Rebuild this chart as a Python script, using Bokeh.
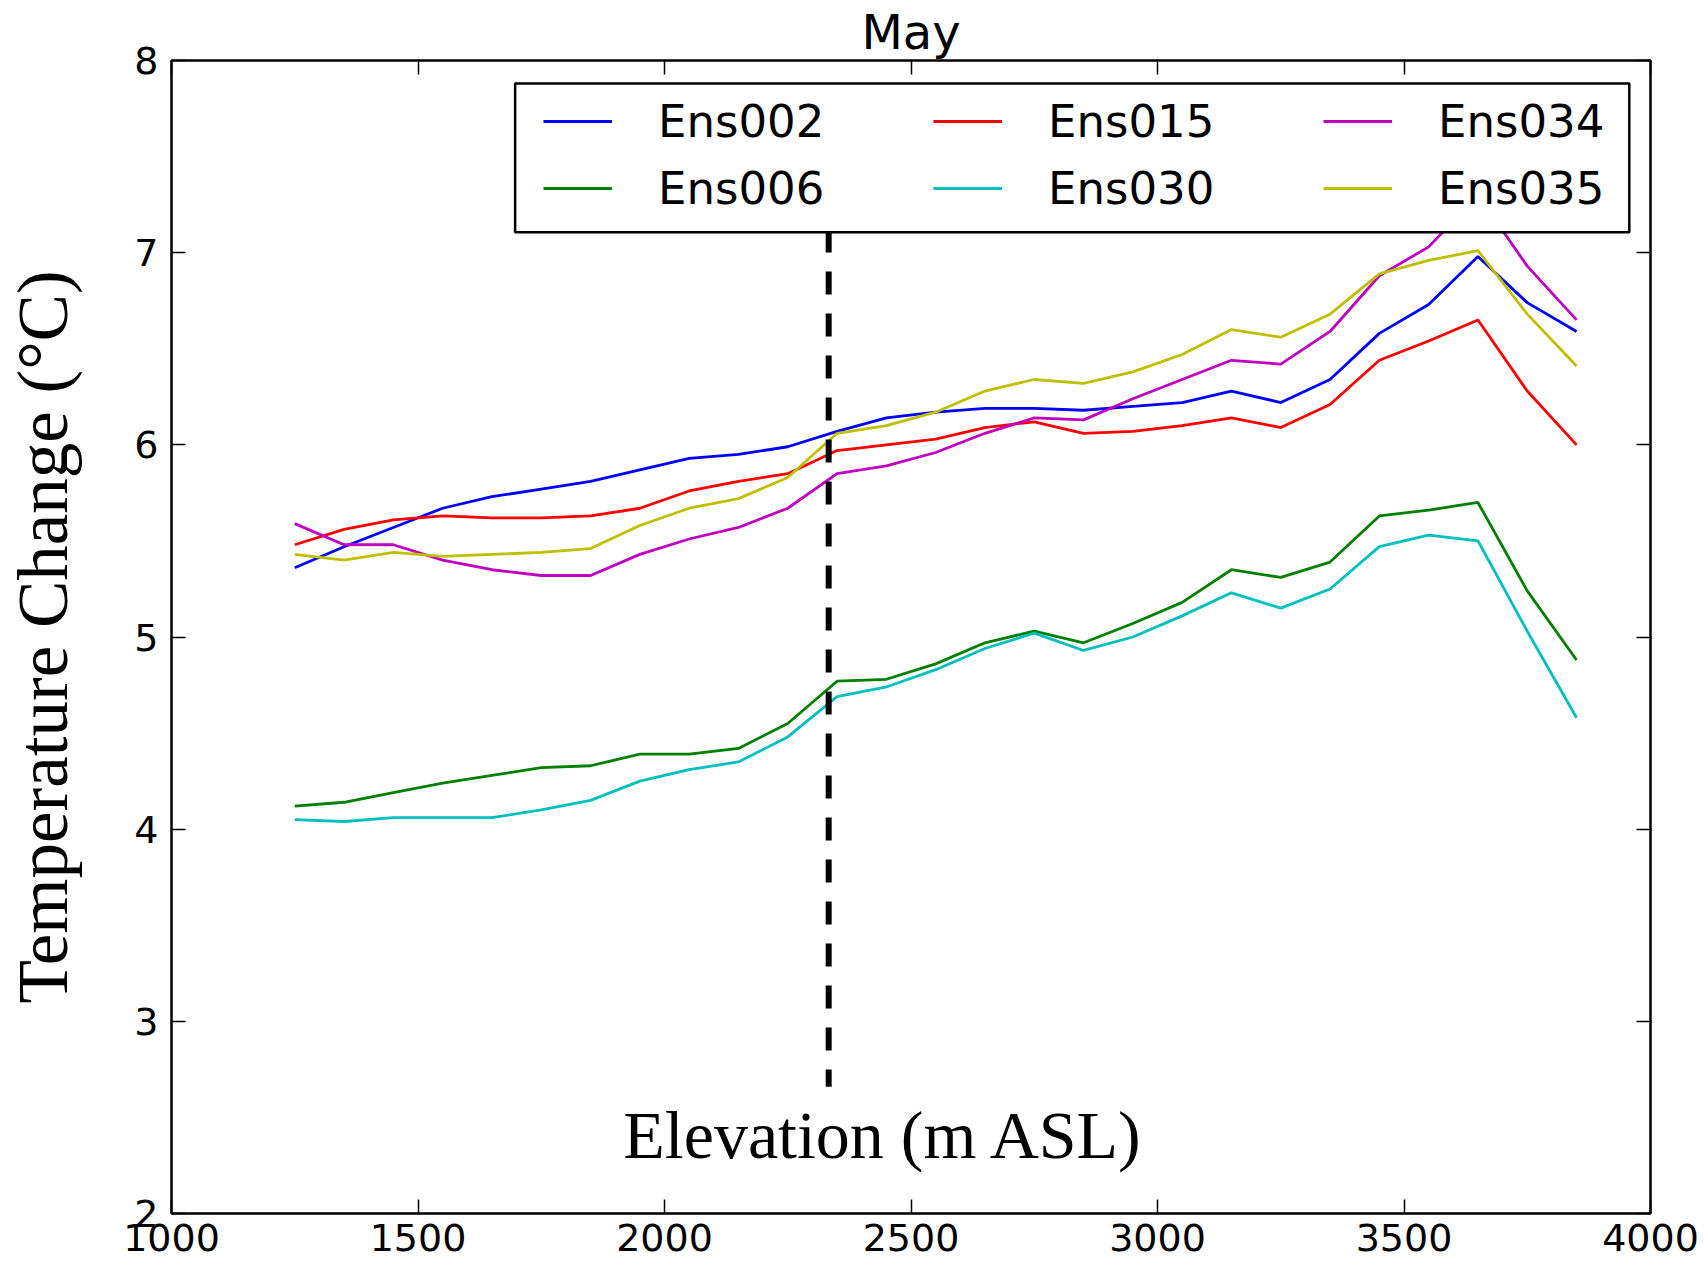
from bokeh.plotting import figure
from bokeh.models import (Legend, LegendItem, Label, LinearAxis, FixedTicker,
                          BoxAnnotation, CustomJSTickFormatter, Range1d)
from bokeh.embed import file_html
from bokeh.resources import INLINE

# ---------------- data ----------------
elevation = [1250, 1350, 1450, 1550, 1650, 1750, 1850, 1950, 2050, 2150, 2250,
             2350, 2450, 2550, 2650, 2750, 2850, 2950, 3050, 3150, 3250, 3350,
             3450, 3550, 3650, 3750, 3850]

ens002 = [5.36, 5.47, 5.57, 5.67, 5.73, 5.77, 5.81, 5.87, 5.93, 5.95, 5.99,
          6.07, 6.14, 6.17, 6.19, 6.19, 6.18, 6.20, 6.22, 6.28, 6.22, 6.34,
          6.58, 6.73, 6.98, 6.74, 6.59]
ens006 = [4.12, 4.14, 4.19, 4.24, 4.28, 4.32, 4.33, 4.39, 4.39, 4.42, 4.55,
          4.77, 4.78, 4.86, 4.97, 5.03, 4.97, 5.07, 5.18, 5.35, 5.31, 5.39,
          5.63, 5.66, 5.70, 5.24, 4.88]
ens015 = [5.48, 5.56, 5.61, 5.63, 5.62, 5.62, 5.63, 5.67, 5.76, 5.81, 5.85,
          5.97, 6.00, 6.03, 6.09, 6.12, 6.06, 6.07, 6.10, 6.14, 6.09, 6.21,
          6.44, 6.54, 6.65, 6.28, 6.00]
ens030 = [4.05, 4.04, 4.06, 4.06, 4.06, 4.10, 4.15, 4.25, 4.31, 4.35, 4.48,
          4.69, 4.74, 4.83, 4.94, 5.02, 4.93, 5.00, 5.11, 5.23, 5.15, 5.25,
          5.47, 5.53, 5.50, 5.03, 4.58]
ens034 = [5.59, 5.48, 5.48, 5.40, 5.35, 5.32, 5.32, 5.43, 5.51, 5.57, 5.67,
          5.85, 5.89, 5.96, 6.06, 6.14, 6.13, 6.24, 6.34, 6.44, 6.42, 6.59,
          6.88, 7.03, 7.30, 6.93, 6.65]
ens035 = [5.43, 5.40, 5.44, 5.42, 5.43, 5.44, 5.46, 5.58, 5.67, 5.72, 5.83,
          6.06, 6.10, 6.17, 6.28, 6.34, 6.32, 6.38, 6.47, 6.60, 6.56, 6.68,
          6.89, 6.96, 7.01, 6.68, 6.41]

series_names = ["Ens002", "Ens006", "Ens015", "Ens030", "Ens034", "Ens035"]
series_values = [ens002, ens006, ens015, ens030, ens034, ens035]
series_colors = ["#0000ff", "#008000", "#ff0000", "#00bfbf", "#bf00bf", "#bfbf00"]

x_ticks = [1000, 1500, 2000, 2500, 3000, 3500, 4000]
y_ticks = [2, 3, 4, 5, 6, 7, 8]

divide_elevation = [2333, 2333]
divide_temperature = [7.12, 2.66]

# ---------------- figure ----------------
p = figure(width=1704, height=1268,
           x_range=Range1d(1000, 4000), y_range=Range1d(2, 8),
           output_backend="svg", toolbar_location=None,
           min_border_left=171, min_border_right=54,
           min_border_top=60, min_border_bottom=55)

p.background_fill_color = "white"
p.border_fill_color = "white"
p.xgrid.visible = False
p.ygrid.visible = False
p.outline_line_color = "black"
p.outline_line_width = 2.5
p.outline_line_alpha = 1.0

p.title.text = "May"
p.title.align = "center"
p.title.text_font = "DejaVu Sans"
p.title.text_font_size = "48px"
p.title.text_font_style = "normal"
p.title.text_color = "black"
p.title.standoff = 2

tick_font = "DejaVu Sans"
for ax in p.xaxis:
    ax.ticker = FixedTicker(ticks=x_ticks)
    ax.major_label_text_font = tick_font
    ax.major_label_text_font_size = "38px"
    ax.major_label_text_color = "black"
    ax.major_label_standoff = 10
    ax.major_tick_in = 14
    ax.major_tick_out = 0
    ax.major_tick_line_width = 1.5
    ax.minor_tick_line_color = None
    ax.axis_line_color = None

for ax in p.yaxis:
    ax.ticker = FixedTicker(ticks=y_ticks)
    ax.major_label_text_font = tick_font
    ax.major_label_text_font_size = "38px"
    ax.major_label_text_color = "black"
    ax.major_label_standoff = 13
    ax.major_tick_in = 14
    ax.major_tick_out = 0
    ax.major_tick_line_width = 1.5
    ax.minor_tick_line_color = None
    ax.axis_line_color = None
    ax.axis_label = "Temperature Change (°C)"
    ax.axis_label_text_font = "Liberation Serif"
    ax.axis_label_text_font_size = "71px"
    ax.axis_label_text_font_style = "normal"
    ax.axis_label_text_color = "black"
    ax.axis_label_standoff = 49

blank = CustomJSTickFormatter(code="return ''")
top_axis = LinearAxis(ticker=FixedTicker(ticks=x_ticks), formatter=blank,
                      major_tick_in=14, major_tick_out=0, major_tick_line_width=1.5,
                      minor_tick_line_color=None, axis_line_color=None,
                      major_label_text_font_size="1px", major_label_standoff=0)
right_axis = LinearAxis(ticker=FixedTicker(ticks=y_ticks), formatter=blank,
                        major_tick_in=14, major_tick_out=0, major_tick_line_width=1.5,
                        minor_tick_line_color=None, axis_line_color=None,
                        major_label_text_font_size="1px", major_label_standoff=0)
p.add_layout(top_axis, "above")
p.add_layout(right_axis, "right")

# ---------------- lines ----------------
renderers = {}
for name, vals, col in zip(series_names, series_values, series_colors):
    renderers[name] = p.line(elevation, vals, line_color=col, line_width=2.8)

p.line(divide_elevation, divide_temperature, line_color="black",
       line_width=6, line_dash="23 19")

p.add_layout(Label(x=2445, y=2.41, text="Elevation (m ASL)",
                   text_font="Liberation Serif", text_font_size="68px",
                   text_color="black", text_align="center",
                   text_baseline="alphabetic"))

# ---------------- legend ----------------
legend_box = BoxAnnotation(left=1697, right=3957, bottom=7.106, top=7.88,
                           fill_color="white", fill_alpha=1.0,
                           line_color="black", line_width=2.5, line_alpha=1.0)
p.add_layout(legend_box)

legend_columns = [["Ens002", "Ens006"], ["Ens015", "Ens030"], ["Ens034", "Ens035"]]
legend_x = [372, 762, 1152]
for names, lx in zip(legend_columns, legend_x):
    leg = Legend(items=[LegendItem(label=n, renderers=[renderers[n]]) for n in names],
                 location=(lx, 998), orientation="vertical",
                 glyph_width=69, glyph_height=54, label_height=54,
                 label_standoff=46, spacing=13, padding=0, margin=0,
                 label_text_font="DejaVu Sans", label_text_font_size="45px",
                 label_text_color="black",
                 border_line_color=None, background_fill_alpha=0.0)
    p.add_layout(leg)

open("out.html", "w").write(file_html(p, INLINE))
